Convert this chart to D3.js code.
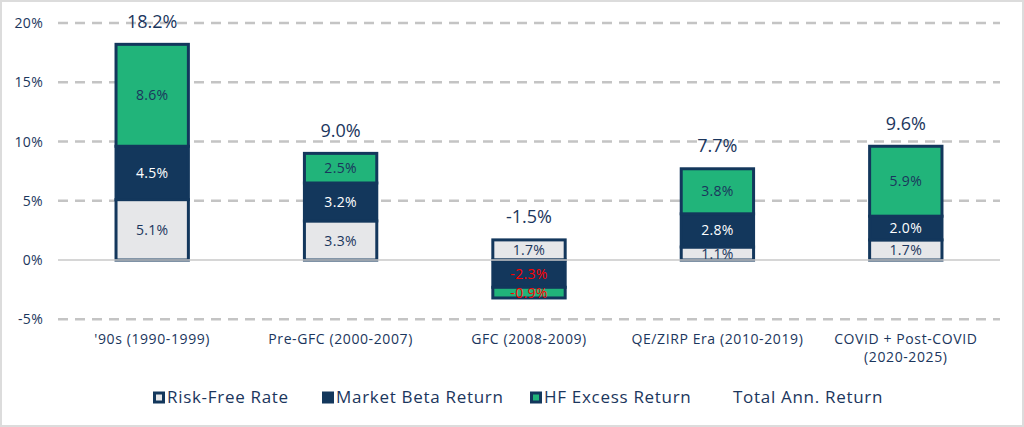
<!DOCTYPE html>
<html><head><meta charset="utf-8">
<script src="https://cdn.jsdelivr.net/npm/d3@7"></script>
<style>body{margin:0;background:#fff;} svg{display:block;font-family:"Open Sans",sans-serif;}</style>
</head><body><svg id="c" width="1024" height="427"></svg>
<script>
const categories = [["'90s (1990-1999)"],["Pre-GFC (2000-2007)"],["GFC (2008-2009)"],["QE/ZIRP Era (2010-2019)"],["COVID + Post-COVID","(2020-2025)"]];
const riskFree = [5.1, 3.3, 1.7, 1.1, 1.7];
const marketBeta = [4.5, 3.2, -2.3, 2.8, 2.0];
const hfExcess = [8.6, 2.5, -0.9, 3.8, 5.9];
const totalReturn = [18.2, 9.0, -1.5, 7.7, 9.6];
const yTicks = [-5, 0, 5, 10, 15, 20];
const seriesNames = ["Risk-Free Rate","Market Beta Return","HF Excess Return","Total Ann. Return"];

const NAVY = "#13375c", GREEN = "#21b47a", GRAY = "#e6e7e9", TXT = "#1b365d";
const svg = d3.select("#c");
svg.append("rect").attr("x",1).attr("y",1).attr("width",1022).attr("height",425).attr("fill","#fff").attr("stroke","#dcdcdc").attr("stroke-width",2);

const x = d3.scaleBand().domain(d3.range(categories.length)).range([58, 1000]).paddingInner(0.6).paddingOuter(0.3);
const y = d3.scaleLinear().domain([-5, 20]).range([319.3, 23]);

// grid
const g = svg.append("g");
g.selectAll("line.grid").data(yTicks.filter(t=>t!==0)).join("line")
  .attr("x1",58).attr("x2",1000).attr("y1",d=>y(d)).attr("y2",d=>y(d))
  .attr("stroke","#c4c4c4").attr("stroke-width",2.5).attr("stroke-dasharray","10,7");
const yAxis = d3.axisLeft(y).tickValues(yTicks).tickFormat(d=>d+"%").tickSize(0).tickPadding(15);
const ya = svg.append("g").attr("transform","translate(58,0)").call(yAxis);
ya.select(".domain").remove();
ya.selectAll("text").attr("fill",TXT).attr("font-size",14).attr("font-family","Open Sans").attr("letter-spacing",0.3);

// stacks
const segs = [];
categories.forEach((c,i)=>{
  let pos=0, neg=0;
  [[riskFree,GRAY,TXT],[marketBeta,NAVY,"#fff"],[hfExcess,GREEN,TXT]].forEach(([arr,fill,tc])=>{
    const v = arr[i]; let y0,y1;
    if(v>=0){y0=pos; y1=pos+v; pos=y1;} else {y0=neg; y1=neg+v; neg=y1;}
    segs.push({i,v,y0,y1,fill,tc: v<0 ? "#ff0000" : tc});
  });
});
const bars = svg.append("g");
bars.selectAll("rect").data(segs).join("rect")
  .attr("x",d=>x(d.i)+1.5).attr("width",x.bandwidth()-3)
  .attr("y",d=>y(Math.max(d.y0,d.y1))).attr("height",d=>Math.abs(y(d.y0)-y(d.y1)))
  .attr("fill",d=>d.fill).attr("stroke",NAVY).attr("stroke-width",3);
// zero line
svg.append("line").attr("x1",58).attr("x2",1000).attr("y1",y(0)).attr("y2",y(0)).attr("stroke","#c8c8c8").attr("stroke-width",1.5);

bars.selectAll("text.seg").data(segs).join("text").attr("class","seg")
  .attr("x",d=>x(d.i)+x.bandwidth()/2).attr("y",d=>y((d.y0+d.y1)/2)).attr("dy","0.36em")
  .attr("text-anchor","middle").attr("font-size",14).attr("letter-spacing",0.3).attr("fill",d=>d.tc)
  .text(d=>d.v.toFixed(1)+"%");

// totals
svg.append("g").selectAll("text").data(totalReturn).join("text")
  .attr("x",(d,i)=>x(i)+x.bandwidth()/2)
  .attr("y",(d,i)=>{const top = Math.max(0,riskFree[i])+Math.max(0,marketBeta[i])+Math.max(0,hfExcess[i]); return y(top)-23;})
  .attr("dy","0.36em").attr("text-anchor","middle").attr("font-size",18).attr("fill",TXT)
  .text(d=>d.toFixed(1)+"%");

// category labels
const cl = svg.append("g");
categories.forEach((c,i)=>{
  const t = cl.append("text").attr("x",x(i)+x.bandwidth()/2).attr("y",344).attr("text-anchor","middle").attr("font-size",14).attr("letter-spacing",0.6).attr("fill",TXT);
  c.forEach((line,k)=>t.append("tspan").attr("x",x(i)+x.bandwidth()/2).attr("dy",k?18:0).text(line));
});

// legend
const legX = [153, 322, 530, 733];
const legFill = [GRAY, NAVY, GREEN, null];
const lg = svg.append("g");
seriesNames.forEach((n,k)=>{
  if(legFill[k]){
    lg.append("rect").attr("x",legX[k]+1.5).attr("y",393).attr("width",9).attr("height",9).attr("fill",legFill[k]).attr("stroke",NAVY).attr("stroke-width",3);
  }
  lg.append("text").attr("x",legX[k]+(legFill[k]?14:0)).attr("y",397).attr("dy","0.36em").attr("font-size",17).attr("letter-spacing",0.7).attr("fill",TXT).text(n);
});
</script></body></html>
